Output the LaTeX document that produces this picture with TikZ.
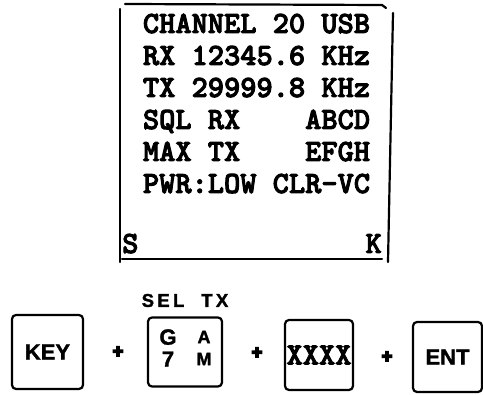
\documentclass[tikz,border=0pt]{standalone}
\usepackage{fontspec}
\usepackage{tikz}
\newfontfamily\lcdfont{lmmonolt10-bold.otf}[FakeBold=3]
\newfontfamily\keyfont{Liberation Sans}[FakeBold=1.5]
\newfontfamily\plusfont{Liberation Sans}[FakeBold=10]

\begin{document}
\begin{tikzpicture}[x=1pt, y=-1pt, node distance=32pt,
    every node/.style={inner sep=0pt},
    lcdline/.style={font=\lcdfont\fontsize{30.9}{32}\selectfont, text height=19pt, text depth=0pt},
    keybox/.style={draw, line width=2.2pt, rounded corners=4pt, minimum width=68pt, minimum height=68pt, font=\keyfont\bfseries\fontsize{22}{24}\selectfont},
    plus/.style={font=\plusfont\bfseries\fontsize{18}{18}\selectfont},
    frame/.style={line width=2.2pt, line cap=round}]
    \useasboundingbox (0,0) rectangle (483,395);

    % Display lines
    \node[lcdline] (chan) at (256.5,23.5) {CHANNEL 20 USB};
    \node[lcdline, below of=chan] (rx) {RX 12345.6 KHz};
    \node[lcdline, below of=rx] (tx) {TX 29999.8 KHz};
    \node[lcdline, below of=tx] (sql) {SQL RX~~~~ABCD};
    \node[lcdline, below of=sql] (max) {MAX TX~~~~EFGH};
    \node[lcdline, below of=max] (pwr) {PWR:LOW CLR-VC};
    \node[lcdline, below of=pwr, node distance=60pt, xshift=-4.5pt] (sk) {S~~~~~~~~~~~~~~K};

    % Display frame
    \draw[frame] (125,4) -- (382,5) -- (386,8);
    \draw[frame] (120,9) -- (120,262);
    \draw[frame] (393,13) -- (388,262);
    \draw[frame] ([yshift=-6pt]sk.south west) -- ([yshift=-6pt]sk.south east);

    % Key sequence
    \node[keybox, minimum width=71pt, minimum height=74pt] (key) at (47.5,352) {KEY};
    \node[plus, right of=key, node distance=70.5pt] (p1) {+};
    \node[keybox, right of=p1, node distance=67pt, minimum width=74pt, minimum height=69pt] (sel) {};
    \node[above of=sel, node distance=51.5pt, font=\keyfont\bfseries\fontsize{18.5}{18}\selectfont\addfontfeatures{LetterSpace=18}] (seltx) {SEL~~TX};
    \node[font=\keyfont\bfseries\fontsize{22}{22}\selectfont, align=center] (g7) at ([xshift=-17pt, yshift=4pt]sel.center) {G\\7};
    \node[font=\keyfont\bfseries\fontsize{18}{22}\selectfont, align=center] (am) at ([xshift=19pt, yshift=4pt]sel.center) {A\\M};
    \node[plus, right of=sel, node distance=72pt, yshift=-1pt] (p2) {+};
    \node[keybox, right of=p2, node distance=62pt, yshift=-2pt, minimum height=70pt, font=\lcdfont\fontsize{30.9}{32}\selectfont] (xxxx) {XXXX};
    \node[plus, right of=xxxx, node distance=68pt, yshift=-2pt] (p3) {+};
    \node[keybox, right of=p3, node distance=60.5pt, minimum width=69pt, minimum height=70pt] (ent) {ENT};
\end{tikzpicture}
\end{document}
